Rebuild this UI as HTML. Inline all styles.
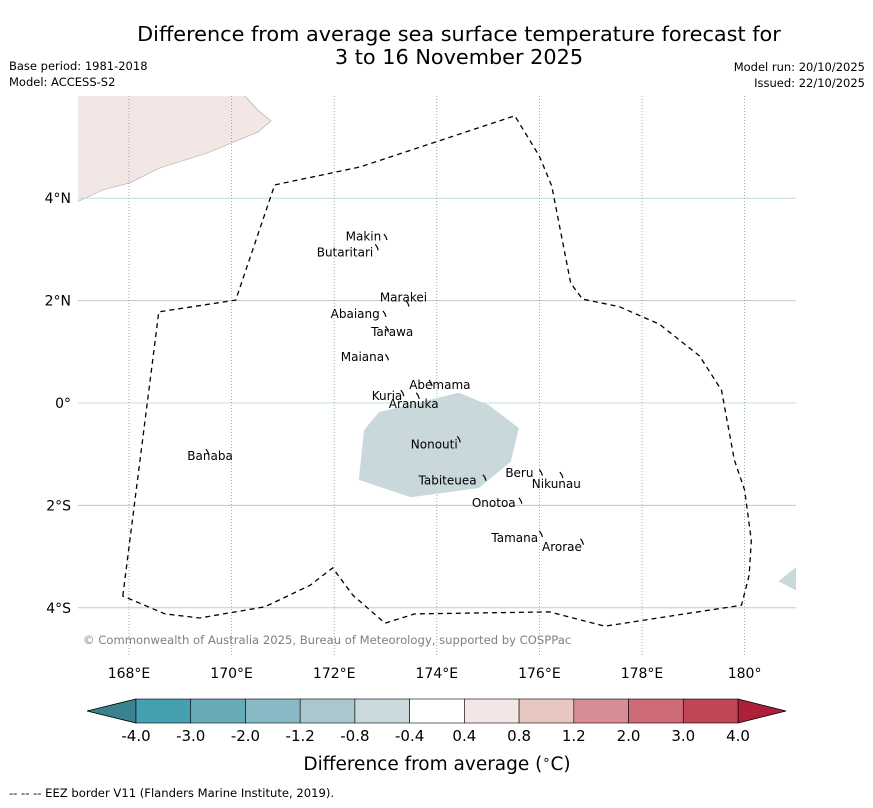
<!DOCTYPE html>
<html><head><meta charset="utf-8"><style>
body{margin:0;background:#fff;font-family:"DejaVu Sans","Liberation Sans",sans-serif;}
svg text{font-family:"DejaVu Sans","Liberation Sans",sans-serif;}
</style></head><body>
<svg id="chart" width="873" height="804" viewBox="0 0 873 804">
<rect width="873" height="804" fill="#fff"/>
<text x="459" y="41" font-size="20.8" text-anchor="middle">Difference from average sea surface temperature forecast for</text>
<text x="459" y="64" font-size="20.8" text-anchor="middle">3 to 16 November 2025</text>
<text x="9" y="70" font-size="11.5">Base period: 1981-2018</text>
<text x="9" y="86" font-size="11.5">Model: ACCESS-S2</text>
<text x="865" y="71" font-size="11.5" text-anchor="end">Model run: 20/10/2025</text>
<text x="865" y="87" font-size="11.5" text-anchor="end">Issued: 22/10/2025</text>
<defs><clipPath id="mapclip"><rect x="78" y="96" width="718" height="560"/></clipPath></defs>
<g id="map" clip-path="url(#mapclip)"></g>
<g id="axes"></g>
<g id="cbar"></g>
<text x="437" y="770" font-size="18.5" text-anchor="middle">Difference from average (<tspan font-size="13" dy="-6">∘</tspan><tspan dy="6">C)</tspan></text>
<text x="9" y="797" font-size="11.6">-- -- -- EEZ border V11 (Flanders Marine Institute, 2019).</text>
</svg>
<script>
const lonTicks=[168,170,172,174,176,178,180];
const lonLabels=["168°E","170°E","172°E","174°E","176°E","178°E","180°"];
const latTicks=[4,2,0,-2,-4];
const latLabels=["4°N","2°N","0°","2°S","4°S"];
const eezLon=[167.88,168.58,170.08,170.84,172.50,175.52,176.00,176.24,176.61,176.84,177.56,178.34,179.12,179.55,179.80,180.00,180.13,180.09,179.94,177.27,176.20,173.57,172.99,172.36,171.97,171.53,170.65,169.38,168.70,167.88];
const eezLat=[-3.77,1.78,2.01,4.26,4.61,5.61,4.82,4.24,2.34,2.03,1.88,1.54,0.92,0.25,-1.11,-1.70,-2.68,-3.36,-3.95,-4.36,-4.08,-4.12,-4.30,-3.75,-3.22,-3.56,-3.98,-4.20,-4.12,-3.77];
const anomLon=[172.58,172.87,174.43,175.01,175.60,175.44,174.82,173.49,172.48];
const anomLat=[-0.53,-0.18,0.20,-0.04,-0.49,-1.15,-1.66,-1.84,-1.50];
const anom2Lon=[180.66,181.1,181.1];
const anom2Lat=[-3.48,-3.13,-3.71];
const landLon=[166.5,170.26,170.51,170.77,170.51,169.52,168.60,168.02,167.49,166.5];
const landLat=[6.2,6.0,5.72,5.51,5.29,4.88,4.59,4.30,4.16,3.7];
const islandNames=["Makin","Butaritari","Marakei","Abaiang","Tarawa","Maiana","Abemama","Kuria","Aranuka","Nonouti","Banaba","Beru","Nikunau","Tabiteuea","Onotoa","Tamana","Arorae"];
const islandLon=[172.57,172.21,173.35,172.41,173.13,172.55,174.06,173.03,173.55,173.95,169.58,175.61,176.33,174.21,175.11,175.52,176.44];
const islandLat=[3.25,2.94,2.06,1.74,1.39,0.90,0.35,0.14,-0.02,-0.81,-1.04,-1.37,-1.58,-1.51,-1.95,-2.64,-2.81];
const islandPtLon=[172.97,172.8,173.4,172.95,173.0,173.0,173.85,173.3,173.6,174.4,169.5,176.0,176.4,174.9,175.6,176.0,176.8];
const islandPtLat=[3.3,3.1,2.0,1.8,1.5,0.95,0.45,0.25,0.2,-0.65,-0.9,-1.3,-1.35,-1.4,-1.85,-2.5,-2.65];
const cbLevels=["-4.0","-3.0","-2.0","-1.2","-0.8","-0.4","0.4","0.8","1.2","2.0","3.0","4.0"];
const cbColors=["#449fb0","#67abb9","#89b9c4","#a9c7cc","#c9d9dc","#ffffff","#f3e7e5","#e8c6c2","#d88c95","#cc6a76","#c04556"];

const NS="http://www.w3.org/2000/svg";
function X(lon){return 129+(lon-168)*51.3;}
function Y(lat){return 403-lat*51.2;}
function mk(tag,attrs,parent){const e=document.createElementNS(NS,tag);for(const k in attrs)e.setAttribute(k,attrs[k]);parent.appendChild(e);return e;}
function pts(lo,la){return lo.map((v,i)=>X(v).toFixed(1)+","+Y(la[i]).toFixed(1)).join(" ");}
const map=document.getElementById('map'),axes=document.getElementById('axes'),cb=document.getElementById('cbar');

let land=mk('polygon',{points:pts(landLon,landLat),fill:'#f2e7e5',stroke:'#aaa','stroke-width':0.6},map);


latTicks.forEach((v,i)=>{
  let l=mk('line',{x1:78,x2:796,y1:Y(v),y2:Y(v),stroke:(v===4||v===0)?'#c4dde0':'#c8c8c8','stroke-width':1},map);
  
  
  let t=mk('text',{x:71,y:Y(v)+5,'font-size':14,'text-anchor':'end'},axes);t.textContent=latLabels[i];
  
  
});
lonTicks.forEach((v,i)=>{
  let l=mk('line',{x1:X(v),x2:X(v),y1:96,y2:656,stroke:'#7a9aa0','stroke-width':0.8,'stroke-dasharray':'1,2'},map);
  
  
  let t=mk('text',{x:X(v),y:678,'font-size':14,'text-anchor':'middle'},axes);t.textContent=lonLabels[i];
  
  
});
let a1=mk('polygon',{points:pts(anomLon,anomLat),fill:'#c8d8db'},map);


let a2=mk('polygon',{points:pts(anom2Lon,anom2Lat),fill:'#c8d8db'},map);


let eez=mk('polygon',{points:pts(eezLon,eezLat),fill:'none',stroke:'#000','stroke-width':1.3,'stroke-dasharray':'5,4'},map);


islandNames.forEach((n,i)=>{
  let p=mk('path',{d:`M${X(islandPtLon[i])},${Y(islandPtLat[i])} l2,3 l1,3`,stroke:'#000','stroke-width':1.2,fill:'none'},map);
  
  
  let t=mk('text',{x:X(islandLon[i]),y:Y(islandLat[i])+4,'font-size':12,'text-anchor':'middle'},map);t.textContent=n;
  
  
});
let cp=mk('text',{x:83,y:644,'font-size':11.6,fill:'#808080'},map);cp.textContent="© Commonwealth of Australia 2025, Bureau of Meteorology, supported by COSPPac";



const cx0=136,cx1=738,cy0=699,cy1=723,n=cbColors.length,w=(cx1-cx0)/n;
let la=mk('polygon',{points:`${cx0},${cy0} ${cx0},${cy1} 87,711`,fill:'#3a828f',stroke:'#000','stroke-width':0.8},cb);


let ra=mk('polygon',{points:`${cx1},${cy0} ${cx1},${cy1} 786,711`,fill:'#ae1f3c',stroke:'#000','stroke-width':0.8},cb);


cbColors.forEach((c,i)=>{
  let r=mk('rect',{x:cx0+i*w,y:cy0,width:w,height:cy1-cy0,fill:c,stroke:'#000','stroke-width':0.6},cb);
  
  
});
cbLevels.forEach((s,i)=>{
  let t=mk('text',{x:cx0+i*w,y:741,'font-size':15,'text-anchor':'middle'},cb);t.textContent=s;
  
  
});
</script>
</body></html>
